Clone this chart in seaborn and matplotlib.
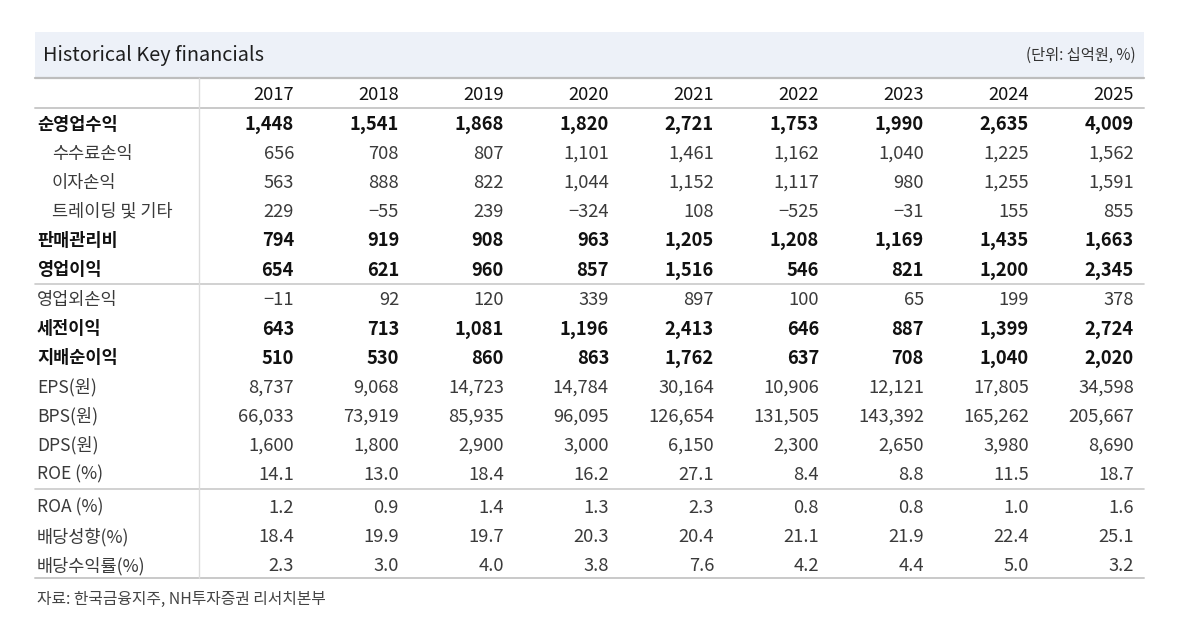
import matplotlib
matplotlib.use("Agg")
import matplotlib.pyplot as plt
import seaborn as sns

# ---------------- data ----------------
years = ["2017", "2018", "2019", "2020", "2021", "2022", "2023", "2024", "2025"]
row_labels = ["순영업수익", "수수료손익", "이자손익", "트레이딩 및 기타", "판매관리비", "영업이익",
              "영업외손익", "세전이익", "지배순이익", "EPS(원)", "BPS(원)", "DPS(원)", "ROE (%)",
              "ROA (%)", "배당성향(%)", "배당수익률(%)"]
net_op_rev = [1448, 1541, 1868, 1820, 2721, 1753, 1990, 2635, 4009]
fee_income = [656, 708, 807, 1101, 1461, 1162, 1040, 1225, 1562]
interest_income = [563, 888, 822, 1044, 1152, 1117, 980, 1255, 1591]
trading_other = [229, -55, 239, -324, 108, -525, -31, 155, 855]
sga = [794, 919, 908, 963, 1205, 1208, 1169, 1435, 1663]
op_income = [654, 621, 960, 857, 1516, 546, 821, 1200, 2345]
non_op = [-11, 92, 120, 339, 897, 100, 65, 199, 378]
pretax = [643, 713, 1081, 1196, 2413, 646, 887, 1399, 2724]
net_ctrl = [510, 530, 860, 863, 1762, 637, 708, 1040, 2020]
eps = [8737, 9068, 14723, 14784, 30164, 10906, 12121, 17805, 34598]
bps = [66033, 73919, 85935, 96095, 126654, 131505, 143392, 165262, 205667]
dps = [1600, 1800, 2900, 3000, 6150, 2300, 2650, 3980, 8690]
roe = [14.1, 13.0, 18.4, 16.2, 27.1, 8.4, 8.8, 11.5, 18.7]
roa = [1.2, 0.9, 1.4, 1.3, 2.3, 0.8, 0.8, 1.0, 1.6]
payout = [18.4, 19.9, 19.7, 20.3, 20.4, 21.1, 21.9, 22.4, 25.1]
div_yield = [2.3, 3.0, 4.0, 3.8, 7.6, 4.2, 4.4, 5.0, 3.2]

rows = [net_op_rev, fee_income, interest_income, trading_other, sga, op_income,
        non_op, pretax, net_ctrl, eps, bps, dps, roe, roa, payout, div_yield]
bold_rows = {"순영업수익", "판매관리비", "영업이익", "세전이익", "지배순이익"}
indented_rows = {"수수료손익", "이자손익", "트레이딩 및 기타"}
pct_rows = {"ROE (%)", "ROA (%)", "배당성향(%)", "배당수익률(%)"}

title = "Historical Key financials"
unit_text = "(단위: 십억원, %)"
source_text = "자료: 한국금융지주, NH투자증권 리서치본부"

# ---------------- style ----------------
sns.set_theme(style="white")
plt.rcParams["font.family"] = ["Noto Sans CJK KR", "DejaVu Sans"]

W, H = 1199, 619
fig = plt.figure(figsize=(W / 100, H / 100), dpi=100)
ax = fig.add_axes([0, 0, 1, 1])
ax.set_xlim(0, W)
ax.set_ylim(H, 0)
ax.axis("off")

left, right = 35, 1144
col_sep = 199
col_x0, col_dx = 294, 105
fs_num = 13.2
fs_lab = 12.6
line_c = "#c9c9c9"


def fmt(v, label):
    if label in pct_rows:
        s = f"{abs(v):.1f}"
    else:
        s = f"{abs(v):,}"
    return ("\u2212" + s) if v < 0 else s


# title band
ax.add_patch(plt.Rectangle((left, 32), right - left, 45, color="#edf1f8", lw=0, zorder=0))
ax.text(43, 55, title, fontsize=14.3, color="#1e1e1e", va="center", ha="left")
ax.text(1136, 55, unit_text, fontsize=11, color="#333333", va="center", ha="right")

# header row
header_y = 94.5
for j, y in enumerate(years):
    ax.text(col_x0 + j * col_dx, header_y, y, fontsize=fs_num, color="#111111", va="center", ha="right")

# row y positions (section gaps after 영업이익 and ROE)
row_y = []
y = 124.5
for i, lab in enumerate(row_labels):
    row_y.append(y)
    y += 29.1
    if lab == "영업이익":
        y += 1
    if lab == "ROE (%)":
        y += 4

for i, (lab, vals) in enumerate(zip(row_labels, rows)):
    bold = lab in bold_rows
    weight = "bold" if bold else "normal"
    color = "#111111" if bold else "#3a3a3a"
    lx = 52 if lab in indented_rows else 37
    ax.text(lx, row_y[i], lab, fontsize=fs_lab, fontweight=weight, color=color, va="center", ha="left")
    for j, v in enumerate(vals):
        ax.text(col_x0 + j * col_dx, row_y[i], fmt(v, lab), fontsize=fs_num, fontweight=weight,
                color=color, va="center", ha="right")

# rules
ax.plot([left, right], [77.5, 77.5], color="#bdbdbd", lw=1.6)
ax.plot([left, right], [107.5, 107.5], color=line_c, lw=1.4)
ax.plot([left, right], [284, 284], color=line_c, lw=1.2)
ax.plot([left, right], [489, 489], color=line_c, lw=1.2)
ax.plot([left, right], [578, 578], color=line_c, lw=1.4)
ax.plot([col_sep, col_sep], [77.5, 578], color="#dcdcdc", lw=1.0)

ax.text(37, 599, source_text, fontsize=11.4, color="#444444", va="center", ha="left")

fig.savefig("out.png", dpi=100, facecolor="white")
